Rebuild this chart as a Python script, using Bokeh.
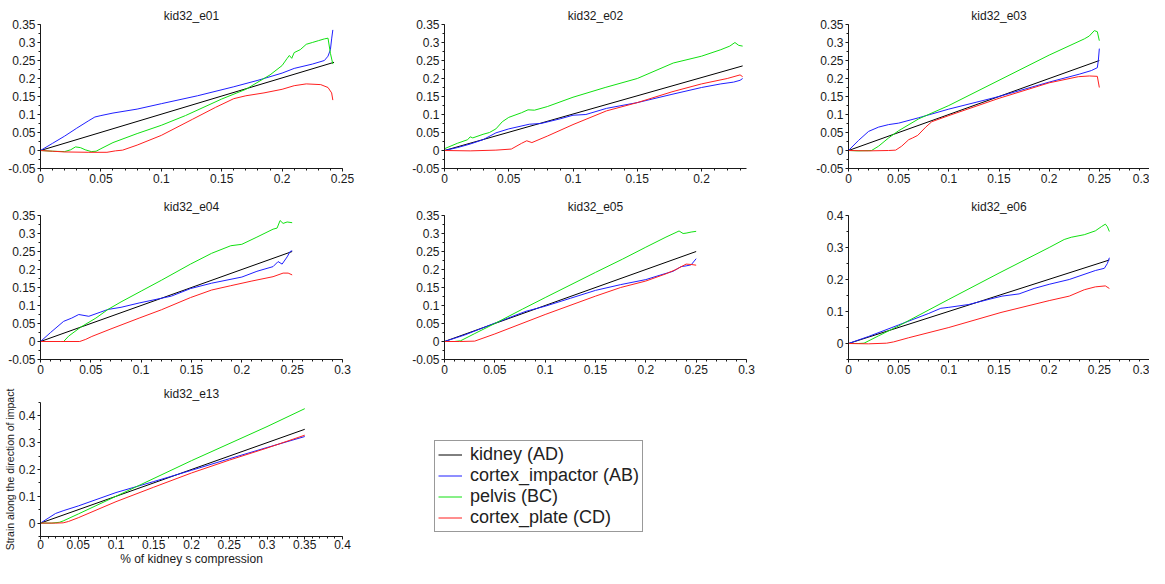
import numpy as np
from bokeh.plotting import figure
from bokeh.layouts import column, row
from bokeh.models import FixedTicker, Legend, LegendItem, Range1d
from bokeh.embed import file_html
from bokeh.resources import INLINE

FONT = "Liberation Sans"
INK = "#1a1a1a"

SERIES_NAMES = ["kidney (AD)", "cortex_impactor (AB)", "pelvis (BC)", "cortex_plate (CD)"]
SERIES_COLORS = ["#000000", "#1f1fff", "#11e011", "#ff1f1f"]

# ---------------- kid32_e01 ----------------
E01_KID_X = [0.0, 0.243]
E01_KID_Y = [0.0, 0.245]
E01_IMP_X = [0.0, 0.01, 0.02, 0.03, 0.04, 0.045, 0.05, 0.06, 0.08, 0.1, 0.13, 0.16, 0.18, 0.2, 0.21, 0.225, 0.235, 0.238, 0.24, 0.241, 0.242]
E01_IMP_Y = [0.0, 0.02, 0.04, 0.062, 0.083, 0.093, 0.097, 0.104, 0.115, 0.13, 0.152, 0.177, 0.195, 0.215, 0.228, 0.24, 0.25, 0.262, 0.28, 0.31, 0.335]
E01_PEL_X = [0.0, 0.01, 0.02, 0.025, 0.029, 0.033, 0.037, 0.042, 0.046, 0.05, 0.06, 0.08, 0.1, 0.12, 0.15, 0.17, 0.19, 0.2, 0.204, 0.206, 0.208, 0.21, 0.215, 0.22, 0.225, 0.23, 0.235, 0.238, 0.24, 0.242]
E01_PEL_Y = [0.0, -0.002, -0.003, 0.002, 0.01, 0.008, 0.002, -0.003, -0.002, 0.005, 0.022, 0.047, 0.07, 0.097, 0.143, 0.17, 0.21, 0.236, 0.255, 0.264, 0.256, 0.272, 0.28, 0.295, 0.3, 0.305, 0.31, 0.312, 0.27, 0.24]
E01_PLA_X = [0.0, 0.01, 0.02, 0.04, 0.055, 0.062, 0.068, 0.08, 0.1, 0.126, 0.145, 0.16, 0.17, 0.185, 0.2, 0.21, 0.22, 0.232, 0.238, 0.241, 0.242]
E01_PLA_Y = [0.0, -0.002, -0.004, -0.005, -0.005, -0.001, 0.001, 0.015, 0.042, 0.087, 0.12, 0.144, 0.152, 0.16, 0.17, 0.18, 0.185, 0.183, 0.175, 0.16, 0.14]

# ---------------- kid32_e02 ----------------
E02_KID_X = [0.0, 0.232]
E02_KID_Y = [0.0, 0.235]
E02_IMP_X = [0.0, 0.01, 0.02, 0.03, 0.04, 0.05, 0.066, 0.075, 0.09, 0.1, 0.11, 0.126, 0.15, 0.177, 0.2, 0.215, 0.225, 0.23, 0.232]
E02_IMP_Y = [0.0, 0.008, 0.018, 0.03, 0.049, 0.06, 0.073, 0.075, 0.088, 0.098, 0.1, 0.117, 0.133, 0.156, 0.175, 0.185, 0.19, 0.195, 0.2]
E02_PEL_X = [0.0, 0.01, 0.018, 0.02, 0.022, 0.03, 0.035, 0.04, 0.045, 0.05, 0.06, 0.065, 0.07, 0.08, 0.1, 0.125, 0.15, 0.178, 0.2, 0.215, 0.222, 0.226, 0.229, 0.232]
E02_PEL_Y = [0.005, 0.02, 0.03, 0.038, 0.035, 0.045, 0.05, 0.06, 0.08, 0.092, 0.105, 0.113, 0.112, 0.122, 0.148, 0.175, 0.2, 0.243, 0.262, 0.28, 0.29, 0.3, 0.292, 0.29]
E02_PLA_X = [0.0, 0.02, 0.04, 0.052, 0.06, 0.064, 0.068, 0.08, 0.1, 0.126, 0.15, 0.177, 0.2, 0.22, 0.23, 0.232]
E02_PLA_Y = [0.0, -0.001, 0.001, 0.004, 0.02, 0.027, 0.022, 0.04, 0.072, 0.11, 0.133, 0.163, 0.185, 0.2, 0.21, 0.205]

# ---------------- kid32_e03 ----------------
E03_KID_X = [0.0, 0.25]
E03_KID_Y = [0.0, 0.25]
E03_IMP_X = [0.0, 0.01, 0.02, 0.03, 0.04, 0.05, 0.07, 0.1, 0.15, 0.2, 0.23, 0.242, 0.248, 0.249, 0.25]
E03_IMP_Y = [0.0, 0.028, 0.053, 0.065, 0.072, 0.076, 0.091, 0.115, 0.15, 0.19, 0.212, 0.222, 0.23, 0.25, 0.283]
E03_PEL_X = [0.0, 0.01, 0.023, 0.03, 0.04, 0.05, 0.07, 0.1, 0.15, 0.2, 0.235, 0.24, 0.245, 0.248, 0.25]
E03_PEL_Y = [0.0, -0.001, 0.0, 0.012, 0.035, 0.055, 0.088, 0.125, 0.195, 0.265, 0.31, 0.318, 0.333, 0.33, 0.305]
E03_PLA_X = [0.0, 0.02, 0.04, 0.047, 0.053, 0.06, 0.064, 0.069, 0.077, 0.083, 0.1, 0.15, 0.2, 0.229, 0.24, 0.248, 0.25]
E03_PLA_Y = [0.0, -0.001, 0.0, 0.001, 0.012, 0.03, 0.035, 0.042, 0.065, 0.08, 0.097, 0.145, 0.188, 0.205, 0.207, 0.206, 0.175]

# ---------------- kid32_e04 ----------------
E04_KID_X = [0.0, 0.25]
E04_KID_Y = [0.0, 0.25]
E04_IMP_X = [0.0, 0.01, 0.023, 0.031, 0.038, 0.048, 0.06, 0.067, 0.08, 0.098, 0.13, 0.149, 0.17, 0.2, 0.215, 0.231, 0.236, 0.24, 0.245, 0.248, 0.25]
E04_IMP_Y = [0.0, 0.025, 0.056, 0.065, 0.075, 0.07, 0.082, 0.089, 0.095, 0.107, 0.126, 0.147, 0.162, 0.179, 0.195, 0.208, 0.222, 0.215, 0.235, 0.25, 0.252]
E04_PEL_X = [0.0, 0.02, 0.023, 0.028, 0.04, 0.055, 0.067, 0.08, 0.1, 0.12, 0.149, 0.17, 0.189, 0.2, 0.215, 0.231, 0.235, 0.238, 0.241, 0.245, 0.25]
E04_PEL_Y = [0.0, 0.0, 0.0, 0.015, 0.04, 0.065, 0.089, 0.11, 0.14, 0.17, 0.215, 0.245, 0.266, 0.27, 0.29, 0.312, 0.315, 0.336, 0.328, 0.332, 0.33]
E04_PLA_X = [0.0, 0.02, 0.039, 0.045, 0.051, 0.07, 0.098, 0.12, 0.149, 0.17, 0.189, 0.21, 0.231, 0.241, 0.246, 0.25]
E04_PLA_Y = [0.0, 0.0, 0.0, 0.006, 0.014, 0.035, 0.065, 0.088, 0.122, 0.143, 0.155, 0.168, 0.18, 0.19, 0.19, 0.185]

# ---------------- kid32_e05 ----------------
E05_KID_X = [0.0, 0.25]
E05_KID_Y = [0.0, 0.25]
E05_IMP_X = [0.0, 0.02, 0.05, 0.081, 0.1, 0.125, 0.15, 0.175, 0.2, 0.215, 0.227, 0.235, 0.24, 0.245, 0.25]
E05_IMP_Y = [0.0, 0.018, 0.051, 0.084, 0.098, 0.12, 0.142, 0.158, 0.172, 0.185, 0.195, 0.208, 0.21, 0.213, 0.23]
E05_PEL_X = [0.0, 0.01, 0.016, 0.03, 0.05, 0.0775, 0.1, 0.15, 0.177, 0.2, 0.22, 0.23, 0.233, 0.237, 0.24, 0.245, 0.25]
E05_PEL_Y = [0.0, 0.0, 0.002, 0.022, 0.05, 0.09, 0.122, 0.192, 0.229, 0.262, 0.29, 0.303, 0.307, 0.3, 0.301, 0.304, 0.306]
E05_PLA_X = [0.0, 0.015, 0.03, 0.05, 0.1, 0.15, 0.175, 0.2, 0.22, 0.23, 0.24, 0.245, 0.25]
E05_PLA_Y = [0.0, 0.0, 0.001, 0.021, 0.075, 0.126, 0.15, 0.168, 0.188, 0.2, 0.215, 0.214, 0.212]

# ---------------- kid32_e06 ----------------
E06_KID_X = [0.0, 0.26]
E06_KID_Y = [0.0, 0.261]
E06_IMP_X = [0.0, 0.02, 0.05, 0.08, 0.092, 0.1, 0.12, 0.14, 0.153, 0.17, 0.185, 0.2, 0.22, 0.246, 0.255, 0.258, 0.26]
E06_IMP_Y = [0.0, 0.022, 0.058, 0.094, 0.11, 0.113, 0.122, 0.138, 0.148, 0.155, 0.172, 0.185, 0.2, 0.228, 0.235, 0.25, 0.268]
E06_PEL_X = [0.0, 0.01, 0.0155, 0.03, 0.05, 0.1, 0.15, 0.2, 0.215, 0.222, 0.235, 0.246, 0.252, 0.256, 0.258, 0.26]
E06_PEL_Y = [0.0, 0.0, 0.001, 0.024, 0.055, 0.138, 0.22, 0.3, 0.325, 0.332, 0.34, 0.352, 0.365, 0.373, 0.365, 0.35]
E06_PLA_X = [0.0, 0.02, 0.038, 0.045, 0.06, 0.1, 0.152, 0.2, 0.22, 0.235, 0.246, 0.256, 0.26]
E06_PLA_Y = [0.0, -0.001, 0.001, 0.005, 0.018, 0.05, 0.097, 0.134, 0.148, 0.168, 0.177, 0.18, 0.172]

# ---------------- kid32_e13 ----------------
E13_KID_X = [0.0, 0.35]
E13_KID_Y = [0.0, 0.35]
E13_IMP_X = [0.0, 0.01, 0.02, 0.031, 0.05, 0.1, 0.15, 0.2, 0.25, 0.3, 0.35]
E13_IMP_Y = [0.0, 0.018, 0.036, 0.047, 0.064, 0.114, 0.155, 0.197, 0.24, 0.282, 0.323]
E13_PEL_X = [0.0, 0.015, 0.025, 0.03, 0.05, 0.1, 0.2, 0.3, 0.35]
E13_PEL_Y = [0.0, 0.0, 0.003, 0.008, 0.034, 0.1, 0.233, 0.36, 0.427]
E13_PLA_X = [0.0, 0.02, 0.03, 0.037, 0.05, 0.1, 0.15, 0.2, 0.25, 0.3, 0.35]
E13_PLA_Y = [0.0, 0.0, 0.001, 0.006, 0.02, 0.08, 0.134, 0.187, 0.235, 0.28, 0.328]

# ---------------- ticks ----------------
X_TICKS_025 = [0.0, 0.05, 0.1, 0.15, 0.2, 0.25]
X_LABELS_025 = ["0", "0.05", "0.1", "0.15", "0.2", "0.25"]
X_TICKS_020 = [0.0, 0.05, 0.1, 0.15, 0.2]
X_LABELS_020 = ["0", "0.05", "0.1", "0.15", "0.2"]
X_TICKS_030 = [0.0, 0.05, 0.1, 0.15, 0.2, 0.25, 0.3]
X_LABELS_030 = ["0", "0.05", "0.1", "0.15", "0.2", "0.25", "0.3"]
X_TICKS_040 = [0.0, 0.05, 0.1, 0.15, 0.2, 0.25, 0.3, 0.35, 0.4]
X_LABELS_040 = ["0", "0.05", "0.1", "0.15", "0.2", "0.25", "0.3", "0.35", "0.4"]
Y_TICKS_A = [-0.05, 0.0, 0.05, 0.1, 0.15, 0.2, 0.25, 0.3, 0.35]
Y_LABELS_A = ["-0.05", "0", "0.05", "0.1", "0.15", "0.2", "0.25", "0.3", "0.35"]
Y_TICKS_B = [0.0, 0.1, 0.2, 0.3, 0.4]
Y_LABELS_B = ["0", "0.1", "0.2", "0.3", "0.4"]

TITLES = ["kid32_e01", "kid32_e02", "kid32_e03", "kid32_e04", "kid32_e05", "kid32_e06", "kid32_e13"]
Y_TITLE = "Strain along the direction of impact"
X_TITLE = "% of kidney s compression"


def style_axis(ax, ticks, labels, minor):
    ax.ticker = FixedTicker(ticks=ticks, minor_ticks=minor)
    ax.major_label_overrides = {t: l for t, l in zip(ticks, labels)}
    ax.axis_line_color = INK
    ax.major_tick_line_color = INK
    ax.minor_tick_line_color = INK
    ax.major_tick_in = 0
    ax.major_tick_out = 3
    ax.minor_tick_in = 0
    ax.minor_tick_out = 2
    ax.major_label_standoff = 2
    ax.major_label_text_font = FONT
    ax.major_label_text_font_size = "12px"
    ax.major_label_text_color = INK


def make_panel(title, series, xr, yr, xt, xl, yt, yl, width, height, bl, br, bt, bb):
    p = figure(width=width, height=height, x_range=Range1d(*xr), y_range=Range1d(*yr),
               output_backend="svg", toolbar_location=None, title=title,
               min_border_left=bl, min_border_right=br, min_border_top=bt, min_border_bottom=bb)
    p.title.align = "center"
    p.title.text_font = FONT
    p.title.text_font_size = "12px"
    p.title.text_font_style = "normal"
    p.title.text_color = INK
    p.title.standoff = 4
    p.outline_line_color = None
    p.xgrid.visible = False
    p.ygrid.visible = False
    p.background_fill_color = "white"
    p.border_fill_color = "white"
    xminor = list(np.round(np.arange(xr[0], xr[1] + 1e-9, 0.01), 3))
    ystep = 0.025 if (yt[1] - yt[0]) < 0.07 else 0.05
    yminor = list(np.round(np.arange(yr[0], yr[1] + 1e-9, ystep), 4))
    style_axis(p.xaxis[0], xt, xl, xminor)
    style_axis(p.yaxis[0], yt, yl, yminor)
    rends = []
    for (xs, ys), color in zip(series, SERIES_COLORS):
        rends.append(p.line(xs, ys, line_color=color, line_width=1))
    return p, rends


COL_W = 404
LAST_W = 341
ROW_H = [191, 190, 187]

E13_SERIES = [(E13_KID_X, E13_KID_Y), (E13_IMP_X, E13_IMP_Y), (E13_PEL_X, E13_PEL_Y), (E13_PLA_X, E13_PLA_Y)]

f1, _ = make_panel(TITLES[0], [(E01_KID_X, E01_KID_Y), (E01_IMP_X, E01_IMP_Y), (E01_PEL_X, E01_PEL_Y), (E01_PLA_X, E01_PLA_Y)],
                   (0, 0.25), (-0.05, 0.35), X_TICKS_025, X_LABELS_025, Y_TICKS_A, Y_LABELS_A,
                   COL_W, ROW_H[0], 40, 62, 24, 23)
f2, _ = make_panel(TITLES[1], [(E02_KID_X, E02_KID_Y), (E02_IMP_X, E02_IMP_Y), (E02_PEL_X, E02_PEL_Y), (E02_PLA_X, E02_PLA_Y)],
                   (0, 0.235), (-0.05, 0.35), X_TICKS_020, X_LABELS_020, Y_TICKS_A, Y_LABELS_A,
                   COL_W, ROW_H[0], 40, 62, 24, 23)
f3, _ = make_panel(TITLES[2], [(E03_KID_X, E03_KID_Y), (E03_IMP_X, E03_IMP_Y), (E03_PEL_X, E03_PEL_Y), (E03_PLA_X, E03_PLA_Y)],
                   (0, 0.3), (-0.05, 0.35), X_TICKS_030, X_LABELS_030, Y_TICKS_A, Y_LABELS_A,
                   LAST_W, ROW_H[0], 40, 0, 24, 23)
f4, _ = make_panel(TITLES[3], [(E04_KID_X, E04_KID_Y), (E04_IMP_X, E04_IMP_Y), (E04_PEL_X, E04_PEL_Y), (E04_PLA_X, E04_PLA_Y)],
                   (0, 0.3), (-0.05, 0.35), X_TICKS_030, X_LABELS_030, Y_TICKS_A, Y_LABELS_A,
                   COL_W, ROW_H[1], 40, 62, 24, 22)
f5, _ = make_panel(TITLES[4], [(E05_KID_X, E05_KID_Y), (E05_IMP_X, E05_IMP_Y), (E05_PEL_X, E05_PEL_Y), (E05_PLA_X, E05_PLA_Y)],
                   (0, 0.3), (-0.05, 0.35), X_TICKS_030, X_LABELS_030, Y_TICKS_A, Y_LABELS_A,
                   COL_W, ROW_H[1], 40, 62, 24, 22)
f6, _ = make_panel(TITLES[5], [(E06_KID_X, E06_KID_Y), (E06_IMP_X, E06_IMP_Y), (E06_PEL_X, E06_PEL_Y), (E06_PLA_X, E06_PLA_Y)],
                   (0, 0.3), (-0.05, 0.4), X_TICKS_030, X_LABELS_030, Y_TICKS_B, Y_LABELS_B,
                   LAST_W, ROW_H[1], 40, 0, 24, 22)
f7, r7 = make_panel(TITLES[6], E13_SERIES,
                    (0, 0.4), (-0.05, 0.45), X_TICKS_040, X_LABELS_040, Y_TICKS_B, Y_LABELS_B,
                    COL_W, ROW_H[2], 40, 62, 21, 20)

f7.xaxis.major_label_standoff = 0
f7.xaxis.major_label_text_line_height = 0.9
f7.yaxis.axis_label = Y_TITLE
f7.xaxis.axis_label = X_TITLE
f7.yaxis.axis_label_text_font_size = "10.5px"
f7.xaxis.axis_label_text_font_size = "12px"
for ax in (f7.xaxis[0], f7.yaxis[0]):
    ax.axis_label_text_font = FONT
    ax.axis_label_text_font_style = "normal"
    ax.axis_label_text_color = INK
    ax.axis_label_standoff = 0
    ax.axis_label_text_line_height = 0.9

# legend lives in its own blank panel beside kid32_e13; its sample lines are the
# e13 series, drawn outside this panel's visible ranges
f8 = figure(width=COL_W, height=ROW_H[2], x_range=Range1d(10, 11), y_range=Range1d(10, 11),
            x_axis_type=None, y_axis_type=None, output_backend="svg", toolbar_location=None,
            min_border_left=0, min_border_right=0, min_border_top=0, min_border_bottom=0)
f8.outline_line_color = None
f8.xgrid.visible = False
f8.ygrid.visible = False
legend_rends = [f8.line(xs, ys, line_color=c, line_width=1) for (xs, ys), c in zip(E13_SERIES, SERIES_COLORS)]
legend = Legend(items=[LegendItem(label=n, renderers=[r]) for n, r in zip(SERIES_NAMES, legend_rends)],
                location=(30, 4))
legend.label_text_font = FONT
legend.label_text_font_size = "18px"
legend.label_text_color = "#222222"
legend.glyph_width = 24
legend.glyph_height = 21
legend.label_height = 21
legend.label_standoff = 8
legend.spacing = 0
legend.padding = 3
legend.margin = 0
legend.border_line_color = "#333333"
legend.border_line_width = 1.5
legend.background_fill_color = "white"
legend.background_fill_alpha = 1.0
f8.add_layout(legend)

layout = column(row(f1, f2, f3), row(f4, f5, f6), row(f7, f8))
open("out.html", "w").write(file_html(layout, INLINE))
